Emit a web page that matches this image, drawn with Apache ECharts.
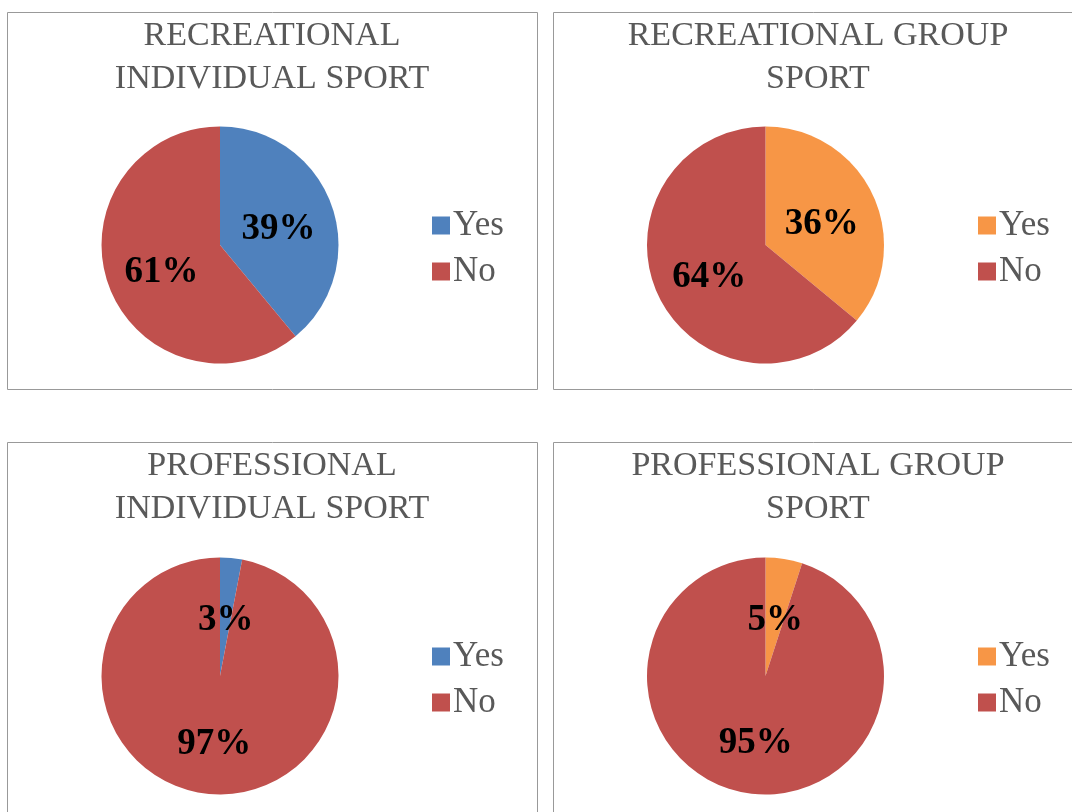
<!DOCTYPE html>
<html>
<head>
<meta charset="utf-8">
<script src="https://cdn.jsdelivr.net/npm/echarts@6/dist/echarts.min.js"></script>
<style>
  html, body { margin: 0; padding: 0; background: #fff; overflow: hidden; }
  #main { width: 1072px; height: 812px; }
</style>
</head>
<body>
<div id="main"></div>
<script>
// data
const categories = ['Yes', 'No'];
const titles = [
  'RECREATIONAL\nINDIVIDUAL SPORT',
  'RECREATIONAL GROUP\nSPORT',
  'PROFESSIONAL\nINDIVIDUAL SPORT',
  'PROFESSIONAL GROUP\nSPORT'
];
const yesValues = [39, 36, 3, 5];
const noValues = [61, 64, 97, 95];
const yesColors = ['#4f81bd', '#f79646', '#4f81bd', '#f79646'];
const noColor = '#c0504d';

// panel layout
const panels = [
  { x: 7.5, y: 12.5, w: 530, h: 377, cx: 220, cy: 245, titleX: 272, legendX: 432 },
  { x: 553.5, y: 12.5, w: 540, h: 377, cx: 765.5, cy: 245, titleX: 818, legendX: 978 },
  { x: 7.5, y: 442.5, w: 530, h: 400, cx: 220, cy: 676, titleX: 272, legendX: 432 },
  { x: 553.5, y: 442.5, w: 540, h: 400, cx: 765.5, cy: 676, titleX: 818, legendX: 978 }
];

const serif = '"Liberation Serif", "DejaVu Serif", serif';
const grey = '#595959';

let option = {
  animation: false,
  backgroundColor: '#fff',
  graphic: panels.map(p => ({
    type: 'rect',
    shape: { x: p.x, y: p.y, width: p.w, height: p.h },
    style: { fill: 'none', stroke: '#999', lineWidth: 1 },
    z: -1
  })),
  title: panels.map((p, i) => ({
    text: titles[i],
    left: p.titleX,
    top: p.y + 2,
    padding: 0,
    textAlign: 'center',
    textStyle: {
      fontFamily: serif,
      fontSize: 34,
      fontWeight: 'normal',
      color: grey,
      lineHeight: 43
    }
  })),
  legend: panels.map((p, i) => ({
    orient: 'vertical',
    left: p.legendX,
    top: p.cy - 37,
    padding: 0,
    icon: 'rect',
    itemWidth: 18,
    itemHeight: 18,
    itemGap: 11,
    selectedMode: false,
    data: categories.map((c, k) => ({
      name: c,
      itemStyle: { color: k === 0 ? yesColors[i] : noColor }
    })),
    textStyle: {
      fontFamily: serif,
      fontSize: 35,
      color: grey,
      lineHeight: 33,
      padding: [0, 0, 0, -2]
    }
  })),
  series: panels.map((p, i) => ({
    type: 'pie',
    center: [p.cx, p.cy],
    radius: 118.5,
    startAngle: 90,
    clockwise: true,
    silent: true,
    label: {
      show: true,
      position: 'inside',
      formatter: '{c}%',
      fontFamily: serif,
      fontSize: 37,
      fontWeight: 'bold',
      color: '#000'
    },
    labelLayout: { dy: 6 },
    labelLine: { show: false },
    itemStyle: { borderWidth: 0 },
    data: [
      { name: categories[0], value: yesValues[i], itemStyle: { color: yesColors[i] } },
      { name: categories[1], value: noValues[i], itemStyle: { color: noColor } }
    ]
  }))
};

const chart = echarts.init(document.getElementById('main'));
chart.setOption(option);
window.onresize = chart.resize;
</script>
</body>
</html>
